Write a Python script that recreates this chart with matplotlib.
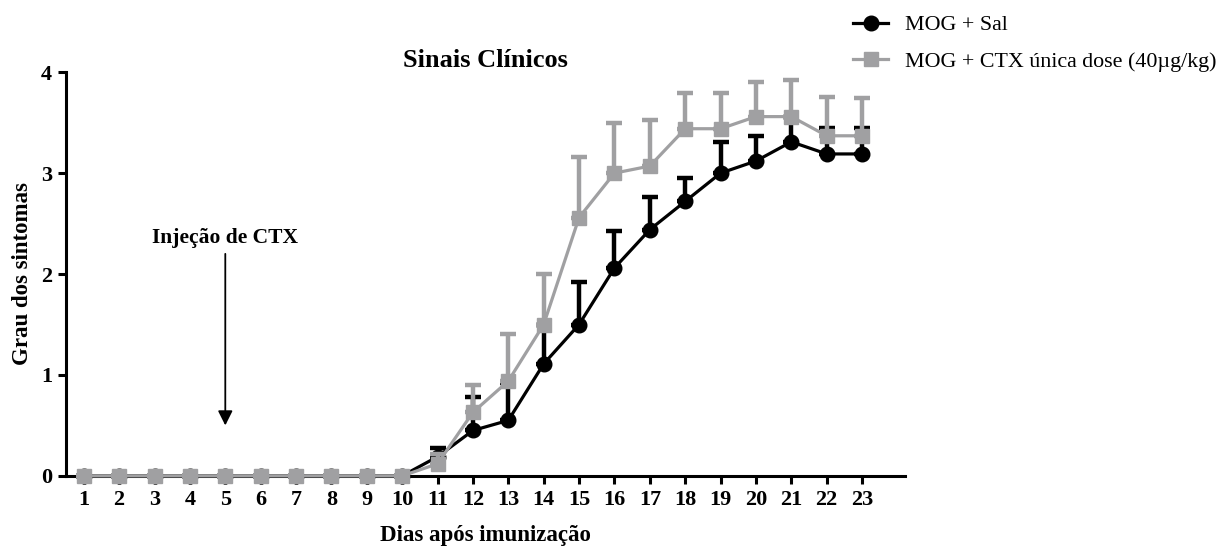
import numpy as np
import matplotlib
matplotlib.use("Agg")
import matplotlib.pyplot as plt
from matplotlib.lines import Line2D

plt.rcParams["font.family"] = ["Liberation Serif", "DejaVu Serif"]

days = list(range(1, 24))

sal_mean = [0, 0, 0, 0, 0, 0, 0, 0, 0, 0,
            0.19, 0.45, 0.55, 1.11, 1.50, 2.06, 2.44, 2.72, 3.00, 3.12, 3.31, 3.19, 3.19]
sal_sem = [0, 0, 0, 0, 0, 0, 0, 0, 0, 0,
           0.09, 0.33, 0.37, 0.39, 0.42, 0.37, 0.32, 0.23, 0.31, 0.25, 0.25, 0.26, 0.26]

ctx_mean = [0, 0, 0, 0, 0, 0, 0, 0, 0, 0,
            0.12, 0.63, 0.94, 1.50, 2.56, 3.00, 3.07, 3.44, 3.44, 3.56, 3.56, 3.37, 3.37]
ctx_sem = [0, 0, 0, 0, 0, 0, 0, 0, 0, 0,
           0.10, 0.27, 0.47, 0.50, 0.60, 0.50, 0.46, 0.35, 0.35, 0.34, 0.36, 0.38, 0.37]

labels = ["MOG + Sal", "MOG + CTX única dose (40µg/kg)"]
injection_day = 5

GRAY = "#a0a0a2"


def draw_series(ax, mean, sem, color, marker, ms, z):
    mean = np.array(mean)
    sem = np.array(sem)
    # upper error bars only
    ax.errorbar(days, mean, yerr=[np.zeros_like(sem), sem], color=color,
                lw=2.3, elinewidth=3.2, capsize=5.5, capthick=3.2,
                marker=marker, ms=ms, mec=color, mfc=color,
                zorder=z, clip_on=False)


def main():
    fig = plt.figure(figsize=(12.24, 5.47), dpi=100)
    ax = fig.add_axes([0.054, 0.130, 0.685, 0.738])

    draw_series(ax, sal_mean, sal_sem, "black", "o", 10.5, 3)
    draw_series(ax, ctx_mean, ctx_sem, GRAY, "s", 10, 4)

    ax.set_xlim(0.5, 24.2)
    ax.set_ylim(0, 4)
    ax.set_xticks(days)
    ax.set_yticks([0, 1, 2, 3, 4])
    for s in ["top", "right"]:
        ax.spines[s].set_visible(False)
    for s in ["left", "bottom"]:
        ax.spines[s].set_linewidth(2.2)
    ax.tick_params(width=2.2, length=6, labelsize=16, direction="out", pad=4)
    for lbl in ax.get_xticklabels() + ax.get_yticklabels():
        lbl.set_fontweight("bold")

    ax.set_xlabel("Dias após imunização", fontsize=16.5, fontweight="bold", va="center")
    ax.xaxis.set_label_coords(0.5, -0.147)
    ax.set_ylabel("Grau dos sintomas", fontsize=16.5, fontweight="bold", va="center")
    ax.yaxis.set_label_coords(-0.052, 0.5)
    ax.set_title("Sinais Clínicos", fontsize=19, fontweight="bold", pad=0)

    # arrow marking the injection day
    ax.annotate("", xy=(injection_day, 0.5), xytext=(injection_day, 2.2),
                arrowprops=dict(arrowstyle="-|>", color="black", lw=1.3,
                                mutation_scale=22, shrinkA=0, shrinkB=0))
    ax.text(injection_day, 2.36, "Injeção de CTX", ha="center", va="center",
            fontsize=15.5, fontweight="bold")

    handles = [
        Line2D([], [], color="black", lw=2.3, marker="o", ms=10.5),
        Line2D([], [], color=GRAY, lw=2.3, marker="s", ms=10),
    ]
    fig.legend(handles, labels, loc="upper left", bbox_to_anchor=(853 / 1224, 1 - 15 / 547),
               frameon=False, fontsize=15.8, handlelength=1.6, handletextpad=0.75,
               labelspacing=0.75, borderpad=0, borderaxespad=0)

    fig.savefig("out.png", dpi=100)


if __name__ == "__main__":
    main()
